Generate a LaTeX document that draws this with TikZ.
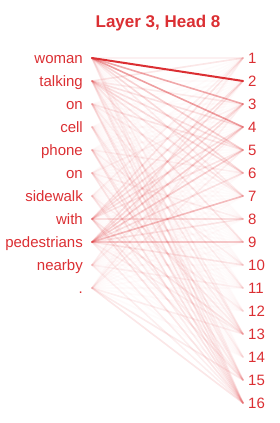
\documentclass[tikz,border=0pt]{standalone}
\usepackage{fontspec}
\setmainfont{Liberation Sans}
\usepackage{tikz}
\definecolor{attnred}{HTML}{DB2F33}
\tikzset{
  every node/.append style={font=\fontsize{15}{18}\selectfont, text=attnred},
  tok/.style={anchor=base east, inner sep=0pt},
  idx/.style={anchor=base west, inner sep=0pt},
  attn/.style={attnred, line width=1.6pt, draw opacity=#1, line cap=round},
}

\begin{document}
\begin{tikzpicture}[x=1pt,y=-1pt]
  \useasboundingbox (0,0) rectangle (280,423);
  \node[font=\fontsize{17}{20}\selectfont\bfseries] (title) at (158,23) {Layer 3, Head 8};
  % tokens on the left, positions on the right
  \foreach \w [count=\i] in {woman,talking,on,cell,phone,on,sidewalk,with,pedestrians,nearby,.} {
    \node[tok] (w\i) at (83,{58+23*(\i-1)+5}) {\w};
    \coordinate (l\i) at (92,{58+23*(\i-1)});
  }
  \foreach \j in {1,...,16} {
    \node[idx] (n\j) at (248,{58+23*(\j-1)+5}) {\j};
    \coordinate (r\j) at (243,{58+23*(\j-1)});
  }
  % faint weights for every pair
  \foreach \i in {1,...,11}
    \foreach \j in {1,...,16}
      \draw[attn=0.02] (l\i) -- (r\j);
  % larger weights
  \foreach \i/\j/\a in {1/1/0.05,1/3/0.4,1/4/0.45,1/5/0.2,1/6/0.15,1/7/0.07,1/13/0.05,1/15/0.05,1/16/0.06,
      2/1/0.1,2/3/0.08,2/4/0.12,2/5/0.12,2/6/0.15,2/7/0.1,2/9/0.1,2/13/0.08,2/15/0.06,2/16/0.08,
      3/5/0.1,3/7/0.06,3/11/0.06,3/15/0.08,3/16/0.1,
      4/13/0.06,4/14/0.05,4/16/0.08,
      5/6/0.06,5/10/0.06,5/15/0.08,5/16/0.1,
      6/3/0.05,6/8/0.06,6/13/0.08,6/16/0.1,
      7/1/0.05,7/12/0.05,7/15/0.06,7/16/0.06,
      8/1/0.1,8/2/0.12,8/3/0.12,8/4/0.12,8/5/0.1,8/8/0.14,8/13/0.1,8/15/0.08,8/16/0.1,
      9/2/0.12,9/3/0.15,9/4/0.2,9/5/0.2,9/6/0.12,9/7/0.3,9/8/0.1,9/9/0.25,9/10/0.1,9/13/0.06,9/16/0.06,
      10/1/0.05,10/4/0.06,10/11/0.05,10/16/0.06,
      11/3/0.05,11/5/0.05,11/13/0.06,11/15/0.08,11/16/0.1}
    \draw[attn=\a] (l\i) -- (r\j);
  \draw[attn=1, line width=2pt] (l1) -- (r2);
\end{tikzpicture}
\end{document}
